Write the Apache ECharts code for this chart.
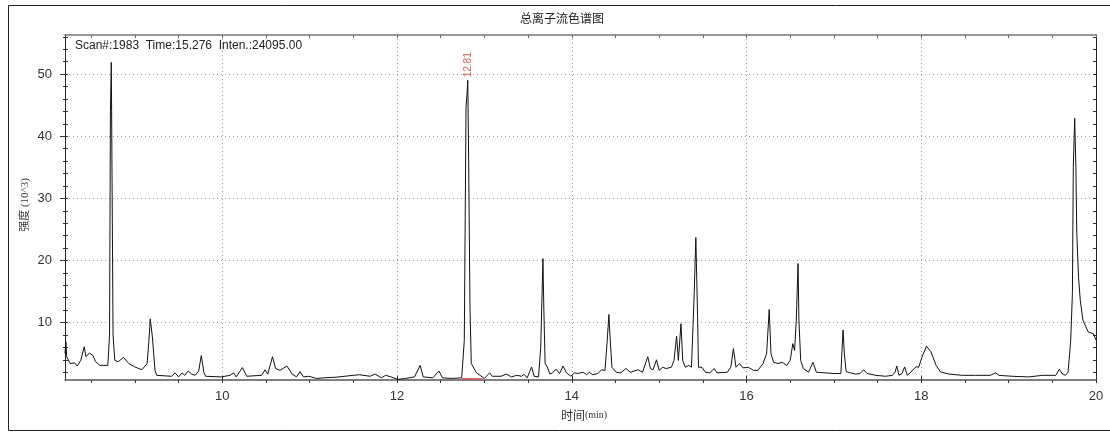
<!DOCTYPE html>
<html>
<head>
<meta charset="utf-8">
<script src="https://cdn.jsdelivr.net/npm/echarts@6/dist/echarts.min.js"></script>
<style>
html,body{margin:0;padding:0;background:#fff;}
#chart{width:1110px;height:432px;}
</style>
</head>
<body>
<div id="chart"></div>
<script>
// ---- data ----
var times = [8.20,8.21,8.22,8.26,8.31,8.34,8.38,8.42,8.44,8.48,8.52,8.55,8.60,8.69,8.71,8.72,8.73,8.74,8.75,8.77,8.81,8.87,8.93,9.00,9.08,9.14,9.16,9.176,9.20,9.23,9.25,9.42,9.46,9.50,9.54,9.57,9.61,9.65,9.69,9.73,9.76,9.79,9.81,9.99,10.09,10.13,10.16,10.23,10.28,10.45,10.49,10.52,10.575,10.61,10.66,10.74,10.80,10.85,10.89,10.93,10.99,11.08,11.16,11.30,11.50,11.57,11.69,11.75,11.82,11.87,11.93,12.01,12.10,12.20,12.265,12.30,12.41,12.48,12.52,12.62,12.74,12.77,12.79,12.80,12.81,12.82,12.835,12.85,12.91,13.00,13.06,13.09,13.19,13.25,13.31,13.37,13.43,13.45,13.49,13.54,13.57,13.62,13.645,13.67,13.68,13.695,13.72,13.75,13.78,13.82,13.86,13.90,13.94,13.99,14.03,14.07,14.13,14.17,14.20,14.24,14.30,14.34,14.38,14.405,14.425,14.44,14.46,14.51,14.56,14.62,14.67,14.76,14.81,14.87,14.90,14.93,14.97,15.00,15.04,15.08,15.14,15.17,15.20,15.22,15.25,15.27,15.30,15.34,15.37,15.40,15.42,15.44,15.45,15.49,15.53,15.58,15.63,15.66,15.78,15.82,15.85,15.88,15.92,15.96,16.02,16.08,16.13,16.19,16.23,16.26,16.28,16.31,16.36,16.41,16.46,16.50,16.53,16.55,16.57,16.59,16.60,16.62,16.65,16.71,16.76,16.80,16.90,16.99,17.08,17.09,17.105,17.12,17.14,17.19,17.25,17.30,17.34,17.38,17.48,17.59,17.67,17.70,17.72,17.745,17.78,17.81,17.84,17.88,17.94,17.97,18.01,18.06,18.11,18.17,18.22,18.32,18.47,18.62,18.79,18.85,18.89,19.04,19.23,19.39,19.54,19.58,19.61,19.65,19.68,19.71,19.73,19.74,19.756,19.77,19.78,19.80,19.82,19.85,19.91,19.97,20.00];
var intensity = [5.0,6.9,4.5,3.4,3.5,3.0,3.9,6.1,4.5,5.1,4.7,3.7,3.1,3.1,8,44,51.9,30,8,3.9,3.7,4.4,3.4,2.85,2.4,3.4,7,10.6,7.7,2.3,1.5,1.35,1.9,1.25,1.9,1.5,2.2,1.7,1.5,2.2,4.7,1.9,1.35,1.25,1.5,1.9,1.25,2.75,1.35,1.5,2.4,1.7,4.5,2.6,2.3,3.0,1.7,1.25,2.1,1.25,1.35,1.0,1.1,1.2,1.5,1.6,1.35,1.7,1.1,1.5,1.25,0.85,1.0,1.25,3.1,1.25,1.1,2.2,1.1,1.0,1.1,7.1,44.7,46.6,49.0,36,12.5,3.4,1.9,1.0,1.9,1.35,1.35,1.7,1.25,1.5,1.35,1.7,1.1,2.85,1.35,1.25,6.0,20.3,12.5,3.4,2.85,1.7,1.9,2.5,1.8,3.0,1.9,1.35,1.9,1.8,2.0,1.6,2.0,1.6,1.8,2.4,2.3,6.9,11.3,7.2,2.8,2.0,1.9,2.6,2.0,2.4,2.0,4.5,2.6,2.4,4.0,2.3,2.8,2.6,2.8,3.9,7.8,3.9,9.8,3.9,2.8,3.1,2.8,14.1,23.7,11,2.8,2.8,2.0,1.9,2.6,1.9,2.0,2.8,5.8,2.8,3.4,2.7,2.8,2.3,2.3,3.4,5.0,12.1,5.0,3.6,3.4,3.6,3.1,3.9,6.6,5.5,10.4,19.5,10.4,3.9,2.6,2.0,3.6,2.0,1.9,1.8,1.8,4.6,8.8,5.0,2.1,1.9,1.7,1.8,2.4,1.8,1.5,1.35,1.5,2.0,3.0,1.5,1.8,2.85,1.5,2.0,2.9,2.8,4.5,6.2,5.3,3.1,2.05,1.7,1.5,1.5,1.5,1.9,1.5,1.35,1.25,1.5,1.5,2.5,1.8,1.5,2.0,7,14.7,35,42.9,35,24.4,17.3,13.6,10.4,8.5,8.2,7.2];
var peakLabelTime = [12.81];
var peakLabelValue = [49.0];
var peakLabelText = ['12.81'];
var baselineTimes = [12.74, 12.98];
var baselineValues = [0.95, 0.9];
var xTickLabels = [10, 12, 14, 16, 18, 20];
var xMinorTicks = [8.5,9,9.5,10,10.5,11,11.5,12,12.5,13,13.5,14,14.5,15,15.5,16,16.5,17,17.5,18,18.5,19,19.5,20];
var yTickLabels = [10, 20, 30, 40, 50];
var yMinorTicks = [2,4,6,8,10,12,14,16,18,20,22,24,26,28,30,32,34,36,38,40,42,44,46,48,50,52,54,56];
var xMin = 8.2, xMax = 20, yMin = 0.75, yMax = 56.3;
var titleText = '总离子流色谱图';
var infoText = 'Scan#:1983  Time:15.276  Inten.:24095.00';
var yName = '强度 (10^3)';
var xNameMain = '时间', xNameUnit = '(min)';

// ---- build ----
var chart = echarts.init(document.getElementById('chart'), null, {renderer: 'canvas'});
var lineData = times.map(function (t, i) { return [t, intensity[i]]; });
var baseData = baselineTimes.map(function (t, i) { return [t, baselineValues[i]]; });
var labelData = peakLabelTime.map(function (t, i) { return {value: [t, peakLabelValue[i]], name: peakLabelText[i]}; });
var FONT = '"Liberation Sans", Arial, sans-serif';
var tickColor = '#333';

function xAx(extra) {
  return Object.assign({type: 'value', min: xMin, max: xMax, gridIndex: 0,
    axisLabel: {show: false}, splitLine: {show: false}, axisLine: {show: false}, axisTick: {show: false}}, extra);
}
function yAx(extra) {
  return Object.assign({type: 'value', min: yMin, max: yMax, gridIndex: 0,
    axisLabel: {show: false}, splitLine: {show: false}, axisLine: {show: false}, axisTick: {show: false}}, extra);
}

var option = {
  animation: false,
  backgroundColor: '#fff',
  grid: {left: 65, right: 14, top: 35, bottom: 52, containLabel: false},
  xAxis: [
    xAx({position: 'bottom',
      axisLine: {show: true, onZero: false, lineStyle: {color: '#555', width: 1.5}},
      axisTick: {show: true, customValues: xMinorTicks, inside: false, length: 3, lineStyle: {color: tickColor}}}),
    xAx({position: 'bottom',
      axisTick: {show: true, customValues: xTickLabels, inside: true, length: 4, lineStyle: {color: tickColor}},
      axisLabel: {show: true, customValues: xTickLabels, margin: 10, fontSize: 13, color: '#333', fontFamily: FONT},
      splitLine: {show: true, lineStyle: {type: [1, 3], color: '#999', width: 1}}}),
    xAx({position: 'top',
      axisLine: {show: true, onZero: false, lineStyle: {color: '#777', width: 1.5}},
      axisTick: {show: true, customValues: xMinorTicks, inside: true, length: 3, lineStyle: {color: '#666'}}})
  ],
  yAxis: [
    yAx({position: 'left',
      axisLine: {show: true, onZero: false, lineStyle: {color: '#222', width: 1}},
      axisTick: {show: true, customValues: yMinorTicks, inside: true, length: 3, lineStyle: {color: tickColor}}}),
    yAx({position: 'left',
      axisTick: {show: true, customValues: yMinorTicks, inside: false, length: 2, lineStyle: {color: tickColor}}}),
    yAx({position: 'left',
      axisTick: {show: true, customValues: yTickLabels, inside: false, length: 5, lineStyle: {color: tickColor}},
      axisLabel: {show: true, customValues: yTickLabels, margin: 13, fontSize: 13, color: '#333', fontFamily: FONT},
      splitLine: {show: true, lineStyle: {type: [1, 3], color: '#999', width: 1}}}),
    yAx({position: 'right',
      axisLine: {show: true, onZero: false, lineStyle: {color: '#222', width: 1}},
      axisTick: {show: true, customValues: yMinorTicks, inside: true, length: 3, lineStyle: {color: tickColor}}})
  ],
  series: [
    {type: 'line', xAxisIndex: 0, yAxisIndex: 0, data: lineData, symbol: 'none', showSymbol: false,
      lineStyle: {color: '#111', width: 1}, z: 3, silent: true},
    {type: 'line', xAxisIndex: 0, yAxisIndex: 0, data: baseData, symbol: 'none', showSymbol: false,
      lineStyle: {color: '#d9534f', width: 1.5}, z: 4, silent: true},
    {type: 'scatter', xAxisIndex: 0, yAxisIndex: 0, data: labelData, symbolSize: 0, z: 5, silent: true,
      label: {show: true, position: 'top', distance: 3, rotate: 90, align: 'left', verticalAlign: 'middle',
        formatter: function (p) { return p.name; }, color: '#c0392b', fontSize: 10, fontFamily: FONT}}
  ],
  graphic: [
    {type: 'rect', shape: {x: 8.5, y: 5.5, width: 1110, height: 425}, style: {fill: 'none', stroke: '#222', lineWidth: 1}, silent: true, z: 100},
    {type: 'text', x: 562, y: 18, style: {text: titleText, fontSize: 12, fill: '#222', fontFamily: '"Noto Sans CJK SC", sans-serif', align: 'center', verticalAlign: 'middle'}},
    {type: 'text', x: 75, y: 46, style: {text: infoText, fontSize: 12, fill: '#222', fontFamily: FONT, align: 'left', verticalAlign: 'middle'}},
    {type: 'text', x: 25, y: 205, rotation: Math.PI / 2,
      style: {text: yName, fontSize: 11, fill: '#333', fontFamily: '"Liberation Serif", "Noto Sans CJK SC", serif', align: 'center', verticalAlign: 'middle'}},
    {type: 'text', x: 584, y: 415,
      style: {text: '{a|' + xNameMain + '}{b|' + xNameUnit + '}', align: 'center', verticalAlign: 'middle',
        rich: {a: {fontSize: 12, fill: '#333', fontFamily: '"Noto Sans CJK SC", sans-serif'},
               b: {fontSize: 10, fill: '#333', fontFamily: '"Liberation Serif", serif'}}}}
  ]
};
chart.setOption(option);
</script>
</body>
</html>
